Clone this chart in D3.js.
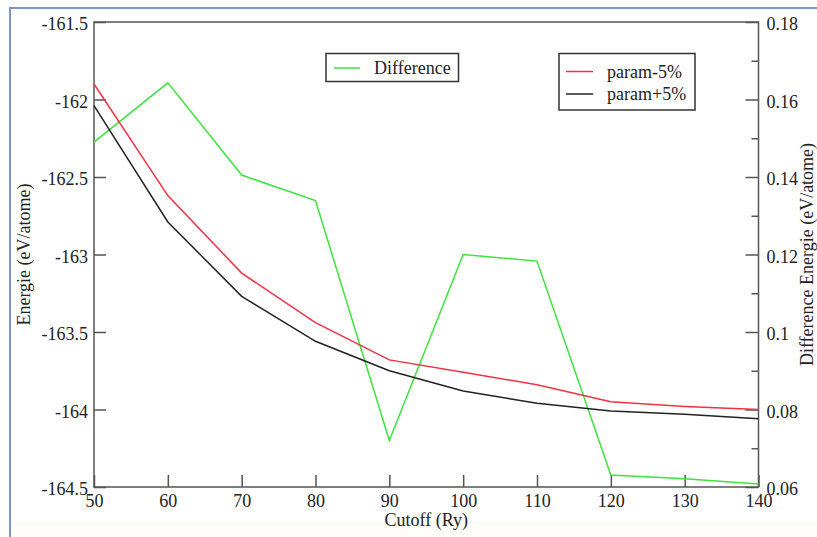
<!DOCTYPE html>
<html>
<head>
<meta charset="utf-8">
<script src="https://cdn.jsdelivr.net/npm/d3@7"></script>
<style>
  html, body { margin: 0; padding: 0; background: #ffffff; }
  svg { display: block; }
  text { font-family: "Liberation Serif", "DejaVu Serif", serif; fill: #222; }
</style>
</head>
<body>
<svg id="chart" width="817" height="537"></svg>
<script>
// ---- data ----
const cutoffs = [50, 60, 70, 80, 90, 100, 110, 120, 130, 140];
const paramMinus5 = [-161.90, -162.62, -163.12, -163.44, -163.68, -163.76, -163.84, -163.95, -163.98, -164.00];
const paramPlus5  = [-162.04, -162.79, -163.27, -163.56, -163.75, -163.88, -163.96, -164.01, -164.03, -164.06];
const difference  = [0.149, 0.1643, 0.1405, 0.1339, 0.0720, 0.1200, 0.1183, 0.0631, 0.0621, 0.0608];

const xTicks = [50, 60, 70, 80, 90, 100, 110, 120, 130, 140];
const yLeftTicks = [-161.5, -162, -162.5, -163, -163.5, -164, -164.5];
const yRightTicks = [0.18, 0.16, 0.14, 0.12, 0.1, 0.08, 0.06];
const yRightMinor = [0.17, 0.15, 0.13, 0.11, 0.09, 0.07];

const legendLeft = [{ name: "Difference", color: "#3de33d" }];
const legendRight = [
  { name: "param-5%", color: "#ee3344" },
  { name: "param+5%", color: "#222222" }
];

// ---- layout ----
const svg = d3.select("#chart");
const L = 94, R = 758.5, T = 22, B = 487;

// page background / frame
svg.append("rect").attr("x", 0).attr("y", 0).attr("width", 817).attr("height", 537).attr("fill", "#ffffff");
svg.append("rect").attr("x", 11).attr("y", 521).attr("width", 806).attr("height", 16).attr("fill", "#fffdf9");
svg.append("line").attr("x1", 10).attr("x2", 10).attr("y1", 8).attr("y2", 537)
  .attr("stroke", "#7b97c6").attr("stroke-width", 2);
svg.append("line").attr("x1", 9).attr("x2", 817).attr("y1", 8).attr("y2", 8)
  .attr("stroke", "#7b97c6").attr("stroke-width", 2);

const x = d3.scaleLinear().domain([50, 140]).range([L, R]);
const yL = d3.scaleLinear().domain([-164.5, -161.5]).range([B, T]);
const yR = d3.scaleLinear().domain([0.06, 0.18]).range([B, T]);

const axisColor = "#555";
function styleAxis(g) {
  g.select(".domain").remove();
  g.selectAll(".tick line").attr("stroke", axisColor).attr("stroke-width", 1.5);
  g.selectAll(".tick text").attr("font-size", 18).attr("fill", "#222")
    .attr("font-family", "Liberation Serif, serif");
}

// x axis
svg.append("g").attr("transform", `translate(0,${B})`)
  .call(d3.axisBottom(x).tickValues(xTicks).tickSizeInner(-12).tickSizeOuter(0).tickPadding(7)
    .tickFormat(d => String(d)))
  .call(styleAxis);

// left axis
svg.append("g").attr("transform", `translate(${L},0)`)
  .call(d3.axisLeft(yL).tickValues(yLeftTicks).tickSizeInner(-12).tickSizeOuter(0).tickPadding(6)
    .tickFormat(d => String(d)))
  .call(styleAxis)
  .selectAll(".tick text").attr("dy", "0.42em");

// right axis (major)
svg.append("g").attr("transform", `translate(${R},0)`)
  .call(d3.axisRight(yR).tickValues(yRightTicks).tickSizeInner(-13).tickSizeOuter(0).tickPadding(8)
    .tickFormat(d => String(d)))
  .call(styleAxis)
  .selectAll(".tick text").attr("dy", "0.42em");

// right axis (minor)
svg.append("g").attr("transform", `translate(${R},0)`)
  .call(d3.axisRight(yR).tickValues(yRightMinor).tickSizeInner(-7).tickSizeOuter(0).tickFormat(""))
  .call(styleAxis);

// frame
svg.append("rect").attr("x", L).attr("y", T).attr("width", R - L).attr("height", B - T)
  .attr("fill", "none").attr("stroke", axisColor).attr("stroke-width", 1.5);

// lines
const lineL = d3.line().x((d, i) => x(cutoffs[i])).y(d => yL(d));
const lineR = d3.line().x((d, i) => x(cutoffs[i])).y(d => yR(d));

svg.append("path").datum(difference).attr("d", lineR)
  .attr("fill", "none").attr("stroke", legendLeft[0].color).attr("stroke-width", 1.5);
svg.append("path").datum(paramMinus5).attr("d", lineL)
  .attr("fill", "none").attr("stroke", legendRight[0].color).attr("stroke-width", 1.5);
svg.append("path").datum(paramPlus5).attr("d", lineL)
  .attr("fill", "none").attr("stroke", legendRight[1].color).attr("stroke-width", 1.5);

// axis titles
svg.append("text").attr("x", (L + R) / 2).attr("y", 526).attr("text-anchor", "middle")
  .attr("font-size", 18).text("Cutoff (Ry)");
svg.append("text").attr("transform", `translate(30,${(T + B) / 2}) rotate(-90)`)
  .attr("text-anchor", "middle").attr("font-size", 18).text("Energie (eV/atome)");
svg.append("text").attr("transform", `translate(813,${(T + B) / 2}) rotate(-90)`)
  .attr("text-anchor", "middle").attr("font-size", 18).text("Difference Energie (eV/atome)");

// legends
function legend(items, bx, by, bw, bh, lx0, lx1, tx, y0, dy) {
  const g = svg.append("g");
  g.append("rect").attr("x", bx).attr("y", by).attr("width", bw).attr("height", bh)
    .attr("fill", "#fff").attr("stroke", "#333").attr("stroke-width", 1.5);
  items.forEach((it, i) => {
    const yy = y0 + i * dy;
    g.append("line").attr("x1", lx0).attr("x2", lx1).attr("y1", yy).attr("y2", yy)
      .attr("stroke", it.color).attr("stroke-width", 1.5);
    g.append("text").attr("x", tx).attr("y", yy).attr("dy", "0.35em")
      .attr("font-size", 18).text(it.name);
  });
}
legend(legendLeft, 326, 53.5, 132.5, 28, 334, 360, 374, 68, 0);
legend(legendRight, 559, 53.5, 136, 56.5, 566, 593, 607, 71.5, 22.5);
</script>
</body>
</html>
